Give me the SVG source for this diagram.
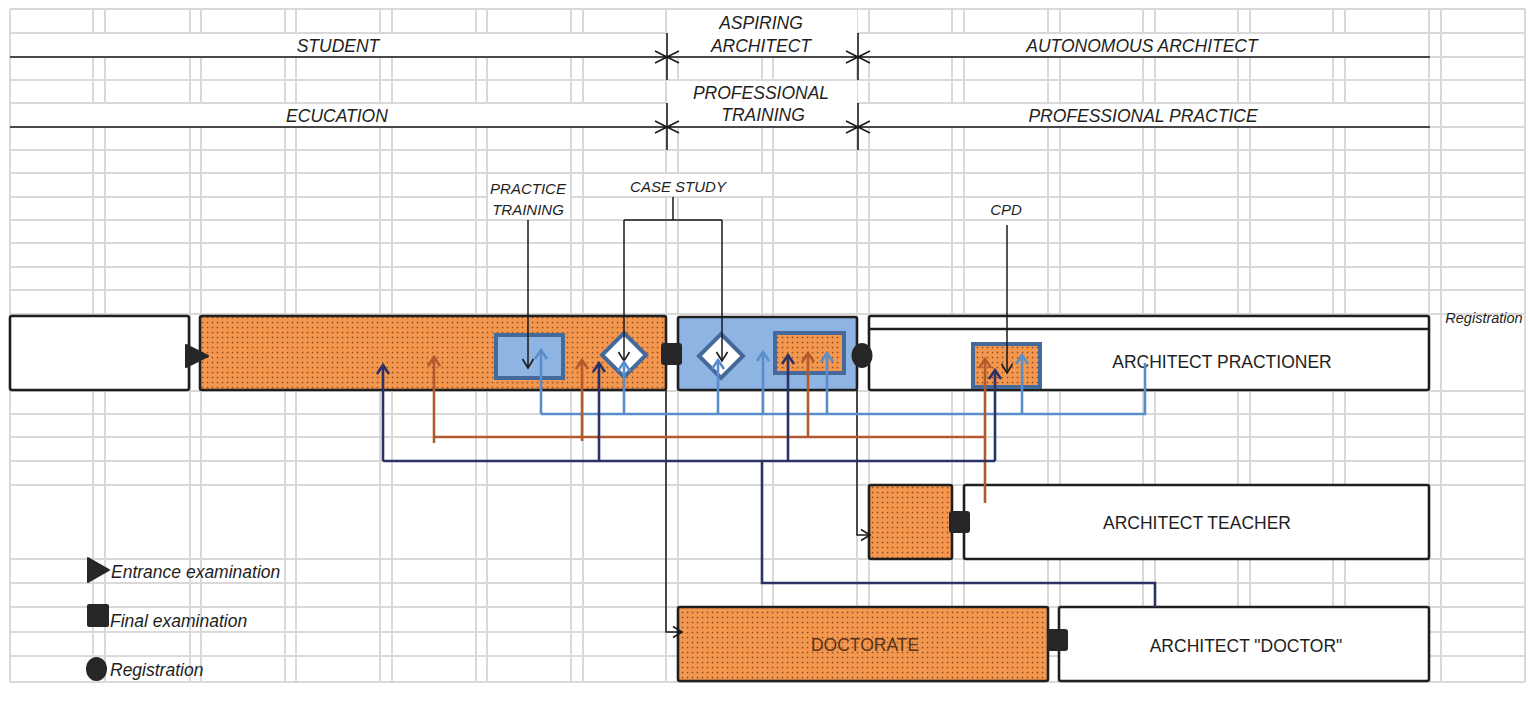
<svg xmlns="http://www.w3.org/2000/svg" width="1528" height="701" viewBox="0 0 1528 701">
<style>
.grid{fill:none;stroke:#d9d9d9;stroke-width:2}
.hdr{font-family:"Liberation Sans",Arial,sans-serif;font-style:italic;font-size:17.5px;fill:#1e1e1e;text-anchor:middle}
.lbl{font-family:"Liberation Sans",Arial,sans-serif;font-style:italic;font-size:15px;fill:#1e1e1e;text-anchor:middle}
.leg{font-family:"Liberation Sans",Arial,sans-serif;font-style:italic;font-size:17.5px;fill:#1e1e1e}
.nt{font-family:"Liberation Sans",Arial,sans-serif;font-size:17.5px;fill:#1e1e1e;text-anchor:middle}
.hl{fill:none;stroke:#1a1a1a;stroke-width:1.6}
.box{stroke:#1f1f1f;stroke-width:2.6}
.white{fill:#ffffff}
.orange{fill:url(#dots)}
.blue{fill:#8db4e2}
.inner{stroke:#44699a;stroke-width:4}
.mark{fill:#262626}
.cb{fill:none;stroke:#1a1a1a;stroke-width:1.5}
.lb{fill:none;stroke:#5a8dcc;stroke-width:2.6}
.br{fill:none;stroke:#b25a2e;stroke-width:2.6}
.nv{fill:none;stroke:#2c3166;stroke-width:2.6}
</style>
<defs>
<pattern id="dots" width="5" height="5" patternUnits="userSpaceOnUse">
<rect width="5" height="5" fill="#f5984f"/>
<rect x="1.8" y="1.8" width="1.5" height="1.5" fill="#8a4c24"/>
</pattern>
<marker id="aK" markerUnits="userSpaceOnUse" markerWidth="14" markerHeight="14" viewBox="-11 -7 14 14" refX="0" refY="0" orient="auto"><path d="M-9,-5.5L0,0L-9,5.5" fill="none" stroke="#1a1a1a" stroke-width="1.6"/></marker>
<marker id="aB" markerUnits="userSpaceOnUse" markerWidth="16" markerHeight="16" viewBox="-12 -8 16 16" refX="0" refY="0" orient="auto"><path d="M-9,-6L0,0L-9,6" fill="none" stroke="#5a8dcc" stroke-width="2.6"/></marker>
<marker id="aR" markerUnits="userSpaceOnUse" markerWidth="16" markerHeight="16" viewBox="-12 -8 16 16" refX="0" refY="0" orient="auto"><path d="M-9,-6L0,0L-9,6" fill="none" stroke="#b25a2e" stroke-width="2.6"/></marker>
<marker id="aN" markerUnits="userSpaceOnUse" markerWidth="16" markerHeight="16" viewBox="-12 -8 16 16" refX="0" refY="0" orient="auto"><path d="M-9,-6L0,0L-9,6" fill="none" stroke="#2c3166" stroke-width="2.6"/></marker>
</defs>
<rect width="1528" height="701" fill="#ffffff"/>
<g id="grid">
<path class="grid" d="M10 9V682M93 9V682M105 9V682M190 9V682M201 9V682M285 9V682M296 9V682M380 9V682M392 9V682M476 9V682M487 9V682M571 9V682M583 9V682M666 9V682M678 9V682M762 9V682M773 9V682M857 9V682M869 9V682M952 9V682M964 9V682M1048 9V682M1060 9V682M1143 9V682M1155 9V682M1238 9V682M1250 9V682M1333 9V682M1345 9V682M1429 9V682M1441 9V682M1525 9V682"/>
<path class="grid" d="M10 9H1525M10 33H1525M10 57H1525M10 80H1525M10 103H1525M10 127H1525M10 150H1525M10 173H1525M10 197H1525M10 220H1525M10 243H1525M10 267H1525M10 290H1525M10 314H1525M10 391H1525M10 414H1525M10 437H1525M10 461H1525M10 485H1525M10 559H1525M10 583H1525M10 607H1525M10 632H1525M10 656H1525M10 682H1525"/>
<rect x="11" y="34.2" width="1417" height="21.8" fill="#fff"/>
<rect x="11" y="104.2" width="1417" height="21.8" fill="#fff"/>
<rect x="667" y="10" width="190" height="46" fill="#fff"/>
<rect x="667" y="81" width="190" height="45" fill="#fff"/>
<rect x="584" y="174" width="188" height="22" fill="#fff"/>
<rect x="488" y="174" width="82" height="45" fill="#fff"/>
</g>
<g id="header">
<path class="hl" d="M10 57H1430M667 33V80M858 33V80M655 51L667 57L655 63M679 51L667 57L679 63M846 51L858 57L846 63M870 51L858 57L870 63"/>
<path class="hl" d="M10 127H1430M667 103V150M858 103V150M655 121L667 127L655 133M679 121L667 127L679 133M846 121L858 127L846 133M870 121L858 127L870 133"/>
<text class="hdr" x="338" y="52">STUDENT</text>
<text class="hdr" x="761" y="29">ASPIRING</text>
<text class="hdr" x="761" y="52">ARCHITECT</text>
<text class="hdr" x="1142" y="52">AUTONOMOUS ARCHITECT</text>
<text class="hdr" x="337" y="122">ECUCATION</text>
<text class="hdr" x="761" y="99">PROFESSIONAL</text>
<text class="hdr" x="763" y="121">TRAINING</text>
<text class="hdr" x="1143" y="122">PROFESSIONAL PRACTICE</text>
</g>
<g id="labels">
<text class="lbl" x="528" y="194">PRACTICE</text>
<text class="lbl" x="528" y="215">TRAINING</text>
<text class="lbl" x="678" y="192">CASE STUDY</text>
<text class="lbl" x="1006" y="215">CPD</text>
<text class="lbl" x="1484" y="323" style="font-size:14.5px">Registration</text>
</g>
<g id="pre-school"><rect class="box white" x="10" y="316" width="179" height="74" rx="2"/></g>
<g id="education"><rect class="box orange" x="200" y="316" width="466" height="74" rx="2"/></g>
<g id="practice-training"><rect class="inner blue" x="496" y="335" width="67" height="43"/></g>
<g id="case-study-1"><polygon class="inner white" points="624,333 646,355 624,377 602,355"/></g>
<g id="professional-training"><rect class="box blue" x="678" y="317" width="179" height="73" rx="2"/></g>
<g id="case-study-2"><polygon class="inner white" points="721,334 743,356 721,378 699,356"/></g>
<g id="training-course"><rect class="inner orange" x="775" y="333" width="69" height="40"/></g>
<g id="architect-practioner">
<rect class="box white" x="869" y="316" width="560" height="74" rx="2"/>
<path d="M869 329H1429" stroke="#1f1f1f" stroke-width="2.6"/>
<text class="nt" x="1222" y="368">ARCHITECT PRACTIONER</text>
</g>
<g id="cpd"><rect class="inner orange" x="973" y="344" width="67" height="43"/></g>
<g id="teacher-training"><rect class="box orange" x="869" y="485" width="83" height="74" rx="2"/></g>
<g id="architect-teacher">
<rect class="box white" x="964" y="485" width="465" height="74" rx="2"/>
<text class="nt" x="1197" y="529">ARCHITECT TEACHER</text>
</g>
<g id="doctorate">
<rect class="box orange" x="678" y="607" width="370" height="74" rx="2"/>
<text class="nt" x="865" y="651" style="fill:#5a3418">DOCTORATE</text>
</g>
<g id="architect-doctor">
<rect class="box white" x="1059" y="607" width="370" height="74" rx="2"/>
<text class="nt" x="1246" y="652">ARCHITECT "DOCTOR"</text>
</g>
<g id="exam-marks">
<path class="mark" d="M186 345L208 356L186 367Z" stroke="#262626" stroke-width="2" stroke-linejoin="round"/>
<rect class="mark" x="661" y="343" width="21" height="22" rx="3"/>
<ellipse class="mark" cx="862" cy="355.5" rx="10.5" ry="12.5"/>
<rect class="mark" x="949" y="511" width="21" height="22" rx="3"/>
<rect class="mark" x="1047" y="629" width="21" height="22" rx="3"/>
</g>
<g id="connectors">
<path class="cb" d="M528 220V368" marker-end="url(#aK)"/>
<path class="cb" d="M673 197V220M624 220H722"/>
<path class="cb" d="M624 220V361" marker-end="url(#aK)"/>
<path class="cb" d="M722 220V361" marker-end="url(#aK)"/>
<path class="cb" d="M1007 225V373" marker-end="url(#aK)"/>
<path class="cb" d="M666 390V632H682" marker-end="url(#aK)"/>
<path class="cb" d="M857 390V535H870" marker-end="url(#aK)"/>
<path class="lb" d="M1145 363V414H541"/>
<path class="lb" d="M541 414V350" marker-end="url(#aB)"/>
<path class="lb" d="M624 414V362" marker-end="url(#aB)"/>
<path class="lb" d="M718 414V360" marker-end="url(#aB)"/>
<path class="lb" d="M763 414V352" marker-end="url(#aB)"/>
<path class="lb" d="M827 414V353" marker-end="url(#aB)"/>
<path class="lb" d="M1022 414V355" marker-end="url(#aB)"/>
<path class="br" d="M985 437H434"/>
<path class="br" d="M985 503V359" marker-end="url(#aR)"/>
<path class="br" d="M434 443V357" marker-end="url(#aR)"/>
<path class="br" d="M582 441V360" marker-end="url(#aR)"/>
<path class="br" d="M808 437V353" marker-end="url(#aR)"/>
<path class="nv" d="M1155 607V583H762V461M383 461H995"/>
<path class="nv" d="M383 461V365" marker-end="url(#aN)"/>
<path class="nv" d="M599 461V363" marker-end="url(#aN)"/>
<path class="nv" d="M788 461V355" marker-end="url(#aN)"/>
<path class="nv" d="M995 461V370" marker-end="url(#aN)"/>
</g>
<g id="legend">
<path class="mark" d="M88 558L109 570L88 582Z" stroke="#262626" stroke-width="2" stroke-linejoin="round"/>
<text class="leg" x="111" y="578">Entrance examination</text>
<rect class="mark" x="87" y="604" width="22" height="23" rx="2"/>
<text class="leg" x="110" y="627">Final examination</text>
<ellipse class="mark" cx="96.5" cy="669" rx="10.5" ry="12"/>
<text class="leg" x="110" y="676">Registration</text>
</g>
</svg>
